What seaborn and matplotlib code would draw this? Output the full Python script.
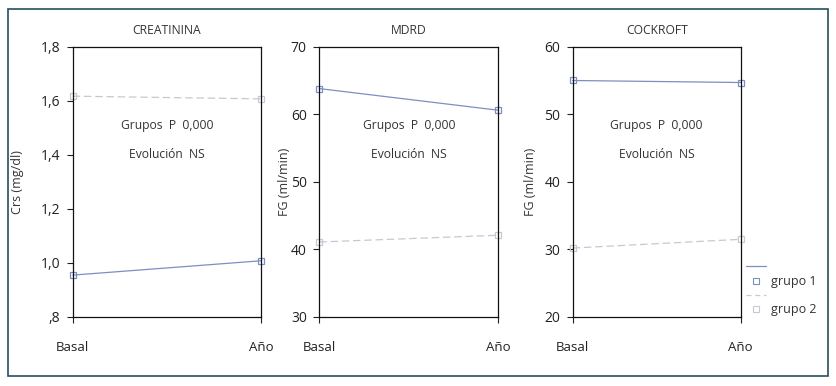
import pandas as pd
import seaborn as sns
import matplotlib.pyplot as plt
from matplotlib.lines import Line2D
from matplotlib.patches import Rectangle

# datos
momentos = ['Basal', 'Año']
grupos = ['grupo 1', 'grupo 2']
titulos = ['CREATININA', 'MDRD', 'COCKROFT']
ylabels = ['Crs (mg/dl)', 'FG (ml/min)', 'FG (ml/min)']
crs_g1 = [0.955, 1.008]
crs_g2 = [1.617, 1.607]
mdrd_g1 = [63.8, 60.6]
mdrd_g2 = [41.1, 42.1]
cock_g1 = [55.0, 54.7]
cock_g2 = [30.2, 31.5]
ylims = [(0.8, 1.8), (30, 70), (20, 60)]
yticks = [[0.8, 1.0, 1.2, 1.4, 1.6, 1.8], [30, 40, 50, 60, 70], [20, 30, 40, 50, 60]]
ytick_labels = [[',8', '1,0', '1,2', '1,4', '1,6', '1,8'],
                ['30', '40', '50', '60', '70'],
                ['20', '30', '40', '50', '60']]

series = [(crs_g1, crs_g2), (mdrd_g1, mdrd_g2), (cock_g1, cock_g2)]

sns.set_style('ticks')
plt.rcParams['font.family'] = ['Open Sans', 'DejaVu Sans']
plt.rcParams['text.color'] = '#333333'

c1 = '#7d8fc0'
c2 = '#c8c8d4'
palette = {'grupo 1': c1, 'grupo 2': c2}

fig = plt.figure(figsize=(8.36, 3.86), dpi=100)
fig.add_artist(Rectangle((8 / 836, 10 / 386), 820 / 836, 367 / 386, transform=fig.transFigure,
                         fill=False, edgecolor='#24505e', linewidth=1.2))

posiciones = [(72.7, 188.3, -0.26), (319.3, 179.0, -0.16), (572.7, 168.0, -0.21)]

for i, (left, width, ylx) in enumerate(posiciones):
    ax = fig.add_axes([left / 836, 1 - 317 / 386, width / 836, 270.3 / 386])
    g1, g2 = series[i]
    df = pd.DataFrame({
        'momento': [0, 1, 0, 1],
        'valor': g1 + g2,
        'grupo': [grupos[0]] * 2 + [grupos[1]] * 2,
    })
    sns.lineplot(data=df, x='momento', y='valor', hue='grupo', style='grupo',
                 palette=palette, dashes={'grupo 1': '', 'grupo 2': (6, 3)},
                 markers={'grupo 1': 's', 'grupo 2': 's'}, markersize=5,
                 markerfacecolor='none', markeredgewidth=0.9, linewidth=0.9,
                 legend=False, ax=ax)
    for ln in ax.get_lines():
        ln.set_markeredgecolor(ln.get_color())
        ln.set_markerfacecolor('none')
        ln.set_clip_on(False)
    ax.set_xlim(0, 1)
    ax.set_ylim(*ylims[i])
    ax.set_xticks([0, 1])
    ax.set_xticklabels(momentos)
    ax.set_yticks(yticks[i])
    ax.set_yticklabels(ytick_labels[i])
    ax.tick_params(axis='y', length=4, width=0.8, pad=5, labelsize=10, colors='#222222')
    ax.tick_params(axis='x', length=4, width=0.8, pad=13, labelsize=9.5, colors='#222222')
    for sp in ax.spines.values():
        sp.set_visible(True)
        sp.set_linewidth(0.9)
        sp.set_color('#111111')
    ax.set_xlabel('')
    ax.set_ylabel(ylabels[i], fontsize=9, color='#333333')
    ax.yaxis.set_label_coords(ylx, 0.5)
    ax.set_title(titulos[i], fontsize=8.7, pad=9, color='#333333')
    ax.text(0.5, 0.71, 'Grupos  P  0,000', transform=ax.transAxes, ha='center', va='center', fontsize=8.7)
    ax.text(0.5, 0.60, 'Evolución  NS', transform=ax.transAxes, ha='center', va='center', fontsize=8.7)

handles = [
    Line2D([], [], color=c1, lw=0.9),
    Line2D([], [], color=c1, marker='s', ls='none', mfc='none', markersize=4, mew=0.8),
    Line2D([], [], color=c2, lw=0.9, dashes=(4, 3)),
    Line2D([], [], color=c2, marker='s', ls='none', mfc='none', markersize=4, mew=0.8),
]
fig.legend(handles, ['', 'grupo 1', '', 'grupo 2'], loc='upper left',
           bbox_to_anchor=(737 / 836, 1 - 252 / 386), frameon=False, fontsize=9,
           handlelength=1.6, handletextpad=0.4, labelspacing=0.1, borderpad=0.2)

fig.savefig('out.png', dpi=100)
